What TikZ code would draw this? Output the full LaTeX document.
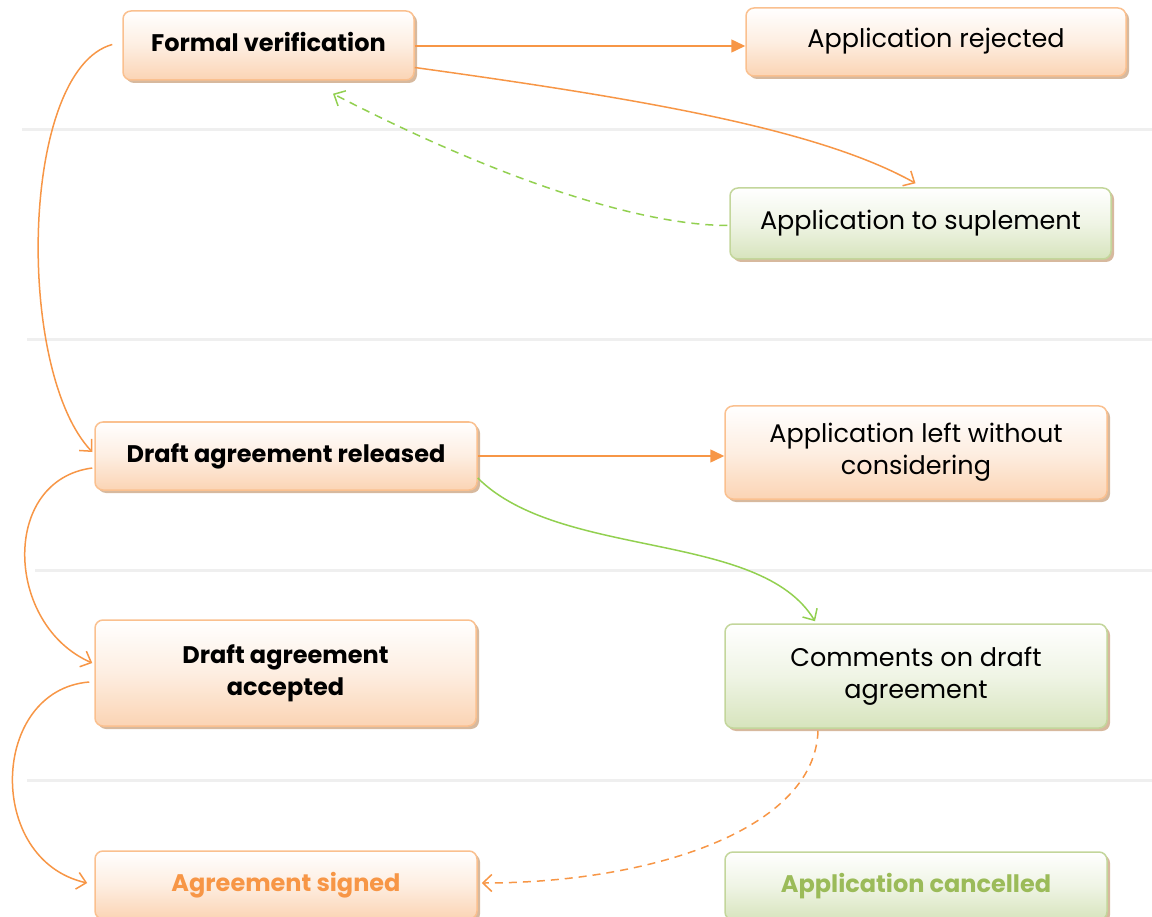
\documentclass[tikz,border=0pt]{standalone}
\usepackage{fontspec}
\setmainfont{Poppins}
\usetikzlibrary{arrows.meta,shadows,calc}
\definecolor{orl}{HTML}{F79646}
\definecolor{orb}{HTML}{FAC08F}
\definecolor{orf}{HTML}{FBD4B4}
\definecolor{grl}{HTML}{92D050}
\definecolor{grb}{HTML}{C3D69B}
\definecolor{grf}{HTML}{D7E4BD}
\definecolor{grt}{HTML}{9BBB59}
\definecolor{shd}{HTML}{C9A27E}
\definecolor{sep}{HTML}{EFEFEF}
\tikzset{
  box/.style={rectangle, rounded corners=8pt, line width=1.5pt, align=center,
    font=\fontsize{25.5}{32}\selectfont, text=black, inner sep=0pt,
    drop shadow={shadow xshift=3pt, shadow yshift=-3pt, fill=shd, opacity=0.75}},
  obox/.style={box, draw=orb, top color=white, bottom color=orf, middle color=orf!40},
  gbox/.style={box, draw=grb, top color=white, bottom color=grf, middle color=grf!40},
  bld/.style={font=\fontsize{24}{32}\selectfont\bfseries},
  one/.style={text height=20pt, text depth=8pt},
  two/.style={text height=52pt, text depth=8pt},
  oline/.style={draw=orl, line width=1.5pt},
  gline/.style={draw=grl, line width=1.5pt},
  opentip/.style={-{Straight Barb[length=9pt,width=17pt,line width=1.5pt]}},
  filltip/.style={-{Triangle[length=14pt,width=13pt]}},
  sepline/.style={draw=sep, line width=3pt}
}
\begin{document}
\begin{tikzpicture}[x=1pt,y=-1pt]
\useasboundingbox (0,0) rectangle (1152,917);
% separators
\draw[sepline] (22,130) -- (1152,130);
\draw[sepline] (27,340) -- (1152,340);
\draw[sepline] (35,570) -- (1152,570);
\draw[sepline] (27,780) -- (1152,780);
% nodes
\node[obox,bld,one,minimum width=291pt,minimum height=69pt] (fv) at (268.5,45.5) {Formal verification};
\node[obox,one,minimum width=380pt,minimum height=68pt] (rej) at (936,42) {Application rejected};
\node[gbox,one,minimum width=381pt,minimum height=71pt] (sup) at (920.5,223.5) {Application to suplement};
\node[obox,bld,one,minimum width=382pt,minimum height=68pt] (rel) at (286,456) {Draft agreement released};
\node[obox,two,minimum width=382pt,minimum height=93pt] (lft) at (916,452.5) {Application left without\\considering};
\node[obox,bld,two,minimum width=381pt,minimum height=106pt] (acc) at (285.5,673) {Draft agreement\\accepted};
\node[gbox,two,minimum width=382pt,minimum height=104pt] (com) at (916,676) {Comments on draft\\agreement};
\node[obox,bld,one,text=orl,minimum width=382pt,minimum height=68pt] (sig) at (286,885) {Agreement signed};
\node[gbox,bld,one,text=grt,minimum width=382pt,minimum height=68pt] (can) at (916,886) {Application cancelled};
% connectors
\draw[oline,filltip] ($(fv.east)+(0,0.5)$) -- ($(fv.east -| rej.west)+(0,0.5)$);
\draw[oline,opentip] ($(fv.east)+(0,22)$) .. controls (650,100) and (820,130) .. ($(sup.north)+(-5,-4)$);
\draw[gline,dashed,dash pattern=on 8pt off 6pt,opentip] ($(sup.west)+(-2,2)$) .. controls (640,225) and (500,180) .. ($(fv.south)+(64.5,13)$);
\draw[oline,opentip] ($(fv.west)+(-10,-1)$) .. controls (20,70) and (15,370) .. ($(rel.west)+(-2,-4)$);
\draw[oline,filltip] (rel.east) -- (rel.east -| lft.west);
\draw[gline,opentip] ($(rel.east)+(0,22)$) .. controls (560,560) and (760,530) .. ($(com.north)+(-101,-2)$);
\draw[oline,opentip] ($(rel.west)+(-2,12)$) .. controls (0,480) and (5,625) .. ($(acc.west)+(-2,-10)$);
\draw[oline,opentip] ($(acc.west)+(-5,9)$) .. controls (-10,690) and (-15,860) .. ($(sig.west)+(-7,-2)$);
\draw[oline,dashed,dash pattern=on 8pt off 6pt,opentip] ($(com.south)+(-98,2)$) .. controls (815,830) and (650,883) .. ($(sig.east)+(4,-2)$);
\end{tikzpicture}
\end{document}
